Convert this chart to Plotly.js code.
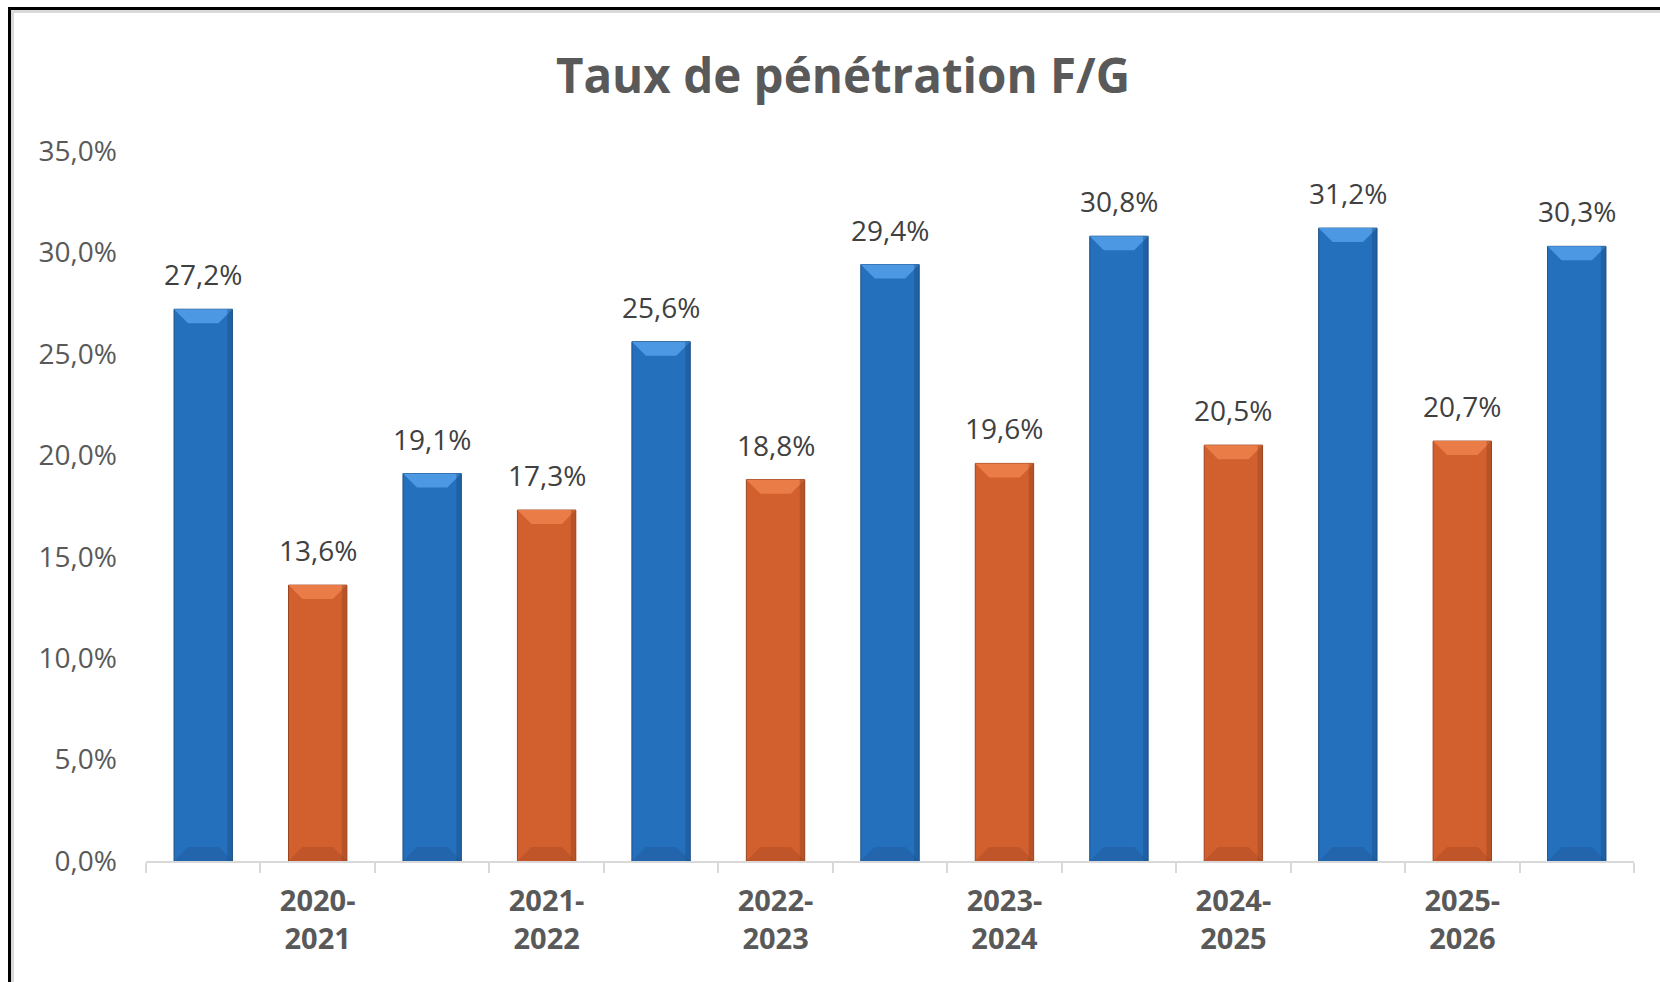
<!DOCTYPE html>
<html><head><meta charset="utf-8">
<script src="https://cdn.plot.ly/plotly-3.0.1.min.js"></script>
<style>
html,body{margin:0;padding:0;background:#fff;overflow:hidden;}
#chart{position:absolute;left:0;top:0;width:1660px;height:982px;}
#frame{position:absolute;left:8px;top:7px;width:1700px;height:1000px;border-left:3px solid #000;border-top:3px solid #000;box-shadow:inset 3px 3px 0 #d9d9d9;pointer-events:none;}
</style></head>
<body>
<div id="chart"></div>
<div id="frame"></div>
<script>
// Data
const periods = ["2020-2021", "2021-2022", "2022-2023", "2023-2024", "2024-2025", "2025-2026"];
const blueValues = [27.2, 19.1, 25.6, 29.4, 30.8, 31.2, 30.3];
const orangeValues = [13.6, 17.3, 18.8, 19.6, 20.5, 20.7];
const yTicks = [0, 5, 10, 15, 20, 25, 30, 35];

// Positions: blue bars on even slots, orange bars on odd slots
const bluePos = blueValues.map((v, i) => 2 * i);
const orangePos = orangeValues.map((v, i) => 2 * i + 1);
const nSlots = bluePos.length + orangePos.length;

const W = 1660, H = 982;
const M = {l: 146, r: 26, t: 151, b: 121};
const plotW = W - M.l - M.r, plotH = H - M.t - M.b;
const yMax = 35;
const pxX = plotW / nSlots, pxY = plotH / yMax;
const barW = 0.51;

const BLUE = '#2470BD', BLUE_TOP = '#4C98E3', BLUE_BOT = '#2265AC', BLUE_EDGE = '#1B4F86';
const ORANGE = '#D25F2E', ORANGE_TOP = '#EA7C47', ORANGE_BOT = '#BF5528', ORANGE_EDGE = '#9A4420';

const fmt = v => v.toFixed(1).replace('.', ',') + '%';

const traces = [
  {type: 'bar', x: bluePos, y: blueValues, width: barW,
   marker: {color: BLUE, line: {color: BLUE_EDGE, width: 1}}, hoverinfo: 'skip', showlegend: false},
  {type: 'bar', x: orangePos, y: orangeValues, width: barW,
   marker: {color: ORANGE, line: {color: ORANGE_EDGE, width: 1}}, hoverinfo: 'skip', showlegend: false}
];

// bevel shapes computed from the data
const shapes = [];
const bev = 14;
function bevel(pos, vals, topCol, botCol, edgeCol) {
  pos.forEach((c, i) => {
    const v = vals[i];
    const hw = barW / 2, dx = bev / pxX, dy = bev / pxY;
    shapes.push({type: 'path', xref: 'x', yref: 'y', layer: 'above', line: {width: 0},
      fillcolor: topCol,
      path: `M ${c - hw} ${v} L ${c + hw} ${v} L ${c + hw - dx} ${v - dy} L ${c - hw + dx} ${v - dy} Z`});
    shapes.push({type: 'path', xref: 'x', yref: 'y', layer: 'above', line: {width: 0},
      fillcolor: botCol,
      path: `M ${c - hw} 0 L ${c + hw} 0 L ${c + hw - dx} ${dy} L ${c - hw + dx} ${dy} Z`});
    shapes.push({type: 'rect', xref: 'x', yref: 'y', layer: 'above', line: {width: 0},
      fillcolor: edgeCol, opacity: 0.45,
      x0: c + hw - 5 / pxX, x1: c + hw, y0: 0, y1: v});
  });
}
bevel(bluePos, blueValues, BLUE_TOP, BLUE_BOT, BLUE_EDGE);
bevel(orangePos, orangeValues, ORANGE_TOP, ORANGE_BOT, ORANGE_EDGE);

const annotations = [];
bluePos.forEach((c, i) => annotations.push({x: c, y: blueValues[i], text: fmt(blueValues[i])}));
orangePos.forEach((c, i) => annotations.push({x: c, y: orangeValues[i], text: fmt(orangeValues[i])}));
annotations.forEach(a => Object.assign(a, {xref: 'x', yref: 'y', showarrow: false, yanchor: 'middle', yshift: 35,
  font: {family: 'Open Sans', size: 28, color: '#404040'}}));

const layout = {
  width: W, height: H,
  margin: M,
  paper_bgcolor: '#fff', plot_bgcolor: '#fff',
  separators: ', ',
  barmode: 'overlay',
  title: {text: 'Taux de pénétration F/G', xref: 'container', yref: 'container', x: 843 / W, y: 1 - 76 / H,
    xanchor: 'center', yanchor: 'middle',
    font: {family: 'Open Sans', size: 47.5, weight: 'bold', color: '#595959'}},
  xaxis: {type: 'linear', range: [-0.5, nSlots - 0.5], fixedrange: true,
    tickmode: 'array', tickvals: orangePos, ticktext: periods.map(p => p.replace('-', '-<br>')),
    ticks: '', showgrid: false, zeroline: false,
    showline: true, linecolor: '#D9D9D9', linewidth: 2,
    minor: {tick0: -0.5, dtick: 1, ticks: 'outside', ticklen: 10, tickcolor: '#D9D9D9', tickwidth: 2, showgrid: false},
    tickfont: {family: 'Open Sans', size: 29, weight: 'bold', color: '#595959'},
    ticklabelstandoff: 13},
  yaxis: {range: [0, yMax], fixedrange: true, tickmode: 'array', tickvals: yTicks,
    ticktext: yTicks.map(t => t.toFixed(1).replace('.', ',') + '%'),
    showgrid: false, zeroline: false, showline: false, ticks: '',
    tickfont: {family: 'Open Sans', size: 28, color: '#595959'},
    ticklabelstandoff: 28},
  shapes: shapes,
  annotations: annotations
};

Plotly.newPlot('chart', traces, layout, {displayModeBar: false, staticPlot: true});
</script>
</body></html>
